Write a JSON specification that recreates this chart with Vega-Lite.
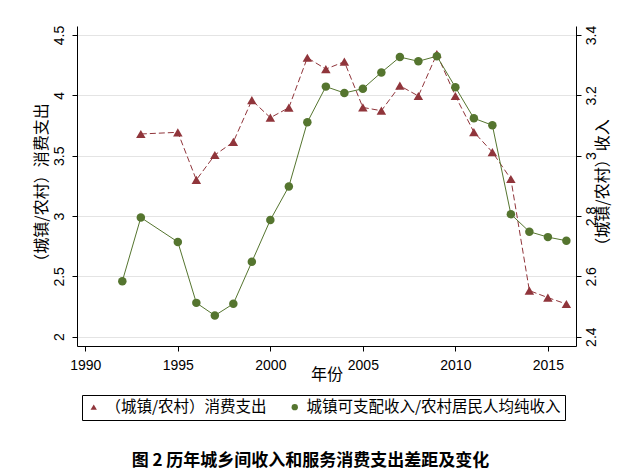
{
  "$schema": "https://vega.github.io/schema/vega-lite/v6.json",
  "width": 499,
  "height": 320,
  "autosize": "none",
  "padding": {"left": 77, "top": 26, "right": 59, "bottom": 130},
  "background": "white",
  "config": {
    "view": {"stroke": null},
    "font": "Liberation Sans",
    "axis": {
      "domainColor": "black",
      "tickColor": "black",
      "labelColor": "black",
      "titleColor": "black",
      "labelFont": "Liberation Sans",
      "labelFontSize": 14,
      "titleFont": "Noto Sans CJK SC",
      "titleFontSize": 16,
      "titleFontWeight": "normal",
      "tickSize": 5
    }
  },
  "title": {
    "text": "图 2 历年城乡间收入和服务消费支出差距及变化",
    "orient": "bottom",
    "anchor": "middle",
    "offset": 32,
    "dx": -16,
    "font": "Noto Sans CJK SC",
    "fontSize": 17,
    "fontWeight": "bold",
    "color": "black"
  },
  "data": {
    "values": [
      {"year": 1993, "value": 3.68, "series": "A"},
      {"year": 1995, "value": 3.694, "series": "A"},
      {"year": 1996, "value": 3.30, "series": "A"},
      {"year": 1997, "value": 3.506, "series": "A"},
      {"year": 1998, "value": 3.614, "series": "A"},
      {"year": 1999, "value": 3.96, "series": "A"},
      {"year": 2000, "value": 3.815, "series": "A"},
      {"year": 2001, "value": 3.898, "series": "A"},
      {"year": 2002, "value": 4.312, "series": "A"},
      {"year": 2003, "value": 4.218, "series": "A"},
      {"year": 2004, "value": 4.279, "series": "A"},
      {"year": 2005, "value": 3.90, "series": "A"},
      {"year": 2006, "value": 3.873, "series": "A"},
      {"year": 2007, "value": 4.08, "series": "A"},
      {"year": 2008, "value": 3.995, "series": "A"},
      {"year": 2009, "value": 4.343, "series": "A"},
      {"year": 2010, "value": 3.995, "series": "A"},
      {"year": 2011, "value": 3.696, "series": "A"},
      {"year": 2012, "value": 3.53, "series": "A"},
      {"year": 2013, "value": 3.307, "series": "A"},
      {"year": 2014, "value": 2.382, "series": "A"},
      {"year": 2015, "value": 2.324, "series": "A"},
      {"year": 2016, "value": 2.271, "series": "A"},
      {"year": 1992, "value": 2.584, "series": "B"},
      {"year": 1993, "value": 2.795, "series": "B"},
      {"year": 1995, "value": 2.714, "series": "B"},
      {"year": 1996, "value": 2.512, "series": "B"},
      {"year": 1997, "value": 2.470, "series": "B"},
      {"year": 1998, "value": 2.509, "series": "B"},
      {"year": 1999, "value": 2.648, "series": "B"},
      {"year": 2000, "value": 2.787, "series": "B"},
      {"year": 2001, "value": 2.898, "series": "B"},
      {"year": 2002, "value": 3.111, "series": "B"},
      {"year": 2003, "value": 3.229, "series": "B"},
      {"year": 2004, "value": 3.208, "series": "B"},
      {"year": 2005, "value": 3.222, "series": "B"},
      {"year": 2006, "value": 3.276, "series": "B"},
      {"year": 2007, "value": 3.327, "series": "B"},
      {"year": 2008, "value": 3.313, "series": "B"},
      {"year": 2009, "value": 3.330, "series": "B"},
      {"year": 2010, "value": 3.227, "series": "B"},
      {"year": 2011, "value": 3.124, "series": "B"},
      {"year": 2012, "value": 3.101, "series": "B"},
      {"year": 2013, "value": 2.806, "series": "B"},
      {"year": 2014, "value": 2.748, "series": "B"},
      {"year": 2015, "value": 2.730, "series": "B"},
      {"year": 2016, "value": 2.718, "series": "B"}
    ]
  },
  "layer": [
    {
      "transform": [{"filter": "datum.series == 'A'"}],
      "mark": {"type": "line", "color": "#90353B", "strokeWidth": 1, "strokeDash": [6, 3]},
      "encoding": {
        "x": {
          "field": "year",
          "type": "quantitative",
          "scale": {"domain": [1989.55, 2016.52], "nice": false, "zero": false},
          "axis": {
            "values": [1990, 1995, 2000, 2005, 2010, 2015],
            "format": "d",
            "title": "年份",
            "grid": false,
            "labelPadding": 7,
            "titlePadding": -6
          }
        },
        "y": {
          "field": "value",
          "type": "quantitative",
          "scale": {"domain": [1.923, 4.575], "nice": false, "zero": false},
          "axis": {
            "orient": "left",
            "values": [2, 2.5, 3, 3.5, 4, 4.5],
            "format": "~g",
            "title": "（城镇/农村）消费支出",
            "labelAngle": -90,
            "labelPadding": 6,
            "titlePadding": 3,
            "grid": true,
            "gridColor": "#e4e4e4"
          }
        }
      }
    },
    {
      "transform": [{"filter": "datum.series == 'B'"}],
      "mark": {"type": "line", "color": "#55752F", "strokeWidth": 1},
      "encoding": {
        "x": {"field": "year", "type": "quantitative"},
        "y": {
          "field": "value",
          "type": "quantitative",
          "scale": {"domain": [2.369, 3.43], "nice": false, "zero": false},
          "axis": {
            "orient": "right",
            "values": [2.4, 2.6, 2.8, 3, 3.2, 3.4],
            "format": "~g",
            "title": "（城镇/农村）收入",
            "titleAngle": -90,
            "labelAngle": -90,
            "labelPadding": 3,
            "titlePadding": 12,
            "grid": false
          }
        }
      }
    },
    {
      "transform": [{"filter": "datum.series == 'A'"}],
      "mark": {"type": "point", "filled": true, "opacity": 1, "size": 90},
      "encoding": {
        "x": {"field": "year", "type": "quantitative"},
        "y": {
          "field": "value",
          "type": "quantitative",
          "scale": {"domain": [1.923, 4.575], "nice": false, "zero": false},
          "axis": null
        },
        "color": {
          "field": "series",
          "type": "nominal",
          "scale": {"domain": ["A", "B"], "range": ["#90353B", "#55752F"]},
          "legend": {
            "title": null,
            "orient": "none",
            "legendX": 5,
            "legendY": 369,
            "direction": "horizontal",
            "strokeColor": "black",
            "padding": 4,
            "labelExpr": "datum.label == 'A' ? '（城镇/农村）消费支出' : '城镇可支配收入/农村居民人均纯收入'",
            "labelFont": "Noto Sans CJK SC",
            "labelFontSize": 15.5,
            "labelColor": "black",
            "labelLimit": 400,
            "symbolSize": 40,
            "columnPadding": 20
          }
        },
        "shape": {
          "field": "series",
          "type": "nominal",
          "scale": {"domain": ["A", "B"], "range": ["triangle-up", "circle"]}
        }
      }
    },
    {
      "transform": [{"filter": "datum.series == 'B'"}],
      "mark": {"type": "point", "filled": true, "opacity": 1, "size": 72},
      "encoding": {
        "x": {"field": "year", "type": "quantitative"},
        "y": {
          "field": "value",
          "type": "quantitative",
          "scale": {"domain": [2.369, 3.43], "nice": false, "zero": false},
          "axis": null
        },
        "color": {"field": "series", "type": "nominal"},
        "shape": {"field": "series", "type": "nominal"}
      }
    }
  ],
  "resolve": {"scale": {"y": "independent"}}
}
